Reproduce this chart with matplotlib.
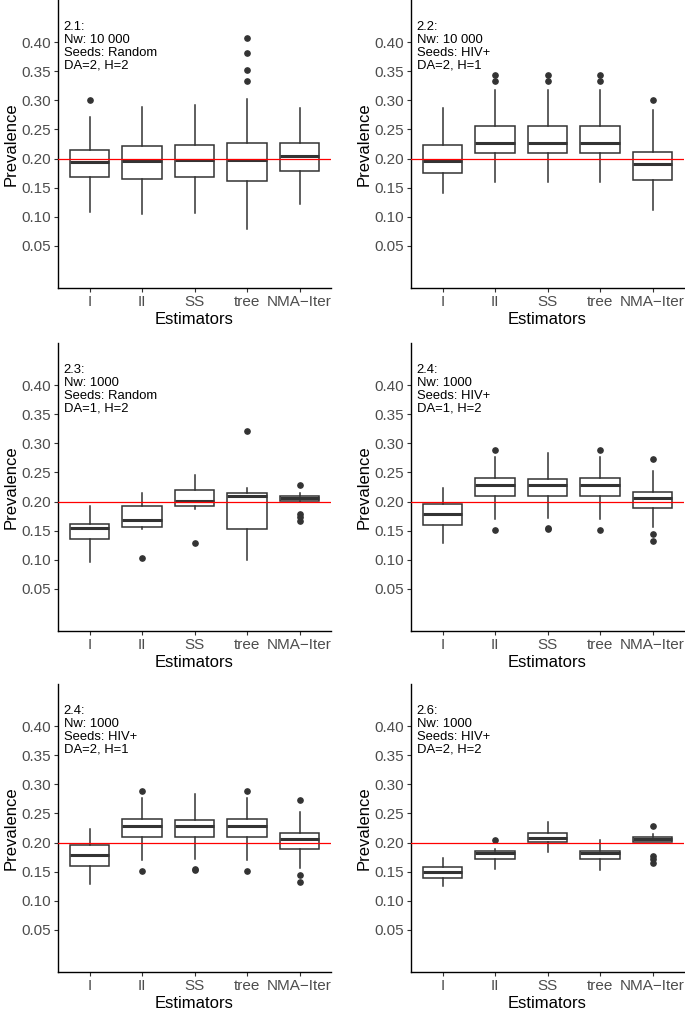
import matplotlib
matplotlib.use('Agg')
import matplotlib.pyplot as plt

plt.rcParams['font.family'] = ['Liberation Sans', 'DejaVu Sans']

estimators = ['I', 'II', 'SS', 'tree', 'NMA\u2212Iter']

# each box: [lower whisker, q1, median, q3, upper whisker]
box_21 = [[0.108, 0.168, 0.194, 0.215, 0.272],
          [0.104, 0.165, 0.195, 0.221, 0.289],
          [0.107, 0.169, 0.198, 0.224, 0.292],
          [0.079, 0.162, 0.198, 0.226, 0.303],
          [0.122, 0.179, 0.205, 0.227, 0.287]]
out_21 = [[0.300], [], [], [0.334, 0.353, 0.381, 0.407], []]

box_22 = [[0.140, 0.176, 0.196, 0.224, 0.287],
          [0.160, 0.209, 0.227, 0.256, 0.318],
          [0.160, 0.209, 0.227, 0.256, 0.317],
          [0.160, 0.209, 0.227, 0.256, 0.318],
          [0.111, 0.163, 0.190, 0.211, 0.284]]
out_22 = [[], [0.334, 0.344], [0.334, 0.344], [0.334, 0.344], [0.301]]

box_23 = [[0.096, 0.135, 0.154, 0.161, 0.192],
          [0.152, 0.157, 0.168, 0.193, 0.214],
          [0.188, 0.192, 0.201, 0.219, 0.246],
          [0.099, 0.153, 0.209, 0.215, 0.224],
          [0.200, 0.201, 0.206, 0.210, 0.215]]
out_23 = [[], [0.103], [0.129], [0.321], [0.167, 0.174, 0.178, 0.228]]

box_24 = [[0.129, 0.159, 0.178, 0.195, 0.224],
          [0.170, 0.210, 0.228, 0.241, 0.277],
          [0.172, 0.210, 0.228, 0.239, 0.283],
          [0.170, 0.210, 0.228, 0.241, 0.277],
          [0.157, 0.189, 0.206, 0.216, 0.253]]
out_24 = [[], [0.151, 0.289], [0.153, 0.154], [0.151, 0.289], [0.132, 0.144, 0.273]]

box_26 = [[0.126, 0.139, 0.150, 0.158, 0.173],
          [0.154, 0.171, 0.182, 0.185, 0.189],
          [0.183, 0.201, 0.208, 0.216, 0.236],
          [0.153, 0.171, 0.182, 0.185, 0.205],
          [0.201, 0.201, 0.206, 0.210, 0.215]]
out_26 = [[], [0.205], [], [], [0.165, 0.172, 0.177, 0.228]]

labels = ['2.1:\nNw: 10 000\nSeeds: Random\nDA=2, H=2',
          '2.2:\nNw: 10 000\nSeeds: HIV+\nDA=2, H=1',
          '2.3:\nNw: 1000\nSeeds: Random\nDA=1, H=2',
          '2.4:\nNw: 1000\nSeeds: HIV+\nDA=1, H=2',
          '2.4:\nNw: 1000\nSeeds: HIV+\nDA=2, H=1',
          '2.6:\nNw: 1000\nSeeds: HIV+\nDA=2, H=2']

panels = [(box_21, out_21), (box_22, out_22), (box_23, out_23),
          (box_24, out_24), (box_24, out_24), (box_26, out_26)]

W, H = 685, 1009
fig = plt.figure(figsize=(W / 100, H / 100), dpi=100)

col_left = [58, 411]
row_top = [0, 343, 684]
pw, ph = 273, 288

grey = '#333333'

for i, (boxes, outs) in enumerate(panels):
    r, c = divmod(i, 2)
    ax = fig.add_axes([col_left[c] / W, 1 - (row_top[r] + ph) / H, pw / W, ph / H])

    stats = []
    for name, b, o in zip(estimators, boxes, outs):
        stats.append(dict(label=name, whislo=b[0], q1=b[1], med=b[2],
                          q3=b[3], whishi=b[4], fliers=o))
    ax.bxp(stats, positions=range(1, 6), widths=0.75, patch_artist=True,
           showcaps=False,
           boxprops=dict(facecolor='white', edgecolor=grey, linewidth=1.1),
           whiskerprops=dict(color=grey, linewidth=1.1),
           medianprops=dict(color=grey, linewidth=2.2, solid_capstyle='butt'),
           flierprops=dict(marker='o', markerfacecolor=grey,
                           markeredgecolor=grey, markersize=3.8))

    ax.axhline(0.2, color='red', linewidth=0.9, zorder=5)

    ax.set_xlim(0.4, 5.6)
    ax.set_ylim(-0.0225, 0.4725)
    ax.set_yticks([0.05, 0.10, 0.15, 0.20, 0.25, 0.30, 0.35, 0.40])
    ax.set_yticklabels(['0.05', '0.10', '0.15', '0.20', '0.25', '0.30', '0.35', '0.40'])
    ax.set_xticks(range(1, 6))
    ax.set_xticklabels(estimators)

    ax.spines['top'].set_visible(False)
    ax.spines['right'].set_visible(False)
    for s in ['left', 'bottom']:
        ax.spines[s].set_linewidth(1.0)
        ax.spines[s].set_color('black')
    ax.tick_params(axis='both', length=3, width=0.8, color=grey,
                   labelcolor='#4D4D4D', labelsize=11, pad=2)

    ax.set_xlabel('Estimators', fontsize=12, labelpad=2)
    ax.set_ylabel('Prevalence', fontsize=12, labelpad=2)

    ax.text(0.51, 0.436, labels[i], ha='left', va='top', fontsize=9.4,
            linespacing=1.1, color='black')

fig.savefig('out.png', dpi=100)
